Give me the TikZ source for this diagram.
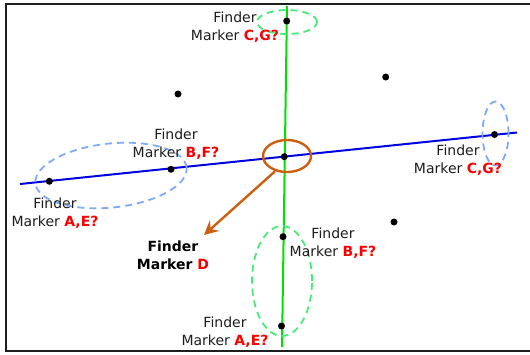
\documentclass[tikz,border=0pt]{standalone}
\usepackage{fontspec}
\setmainfont{DejaVu Sans}
\usetikzlibrary{arrows.meta,shapes.geometric}
\definecolor{lblue}{RGB}{125,170,250}
\definecolor{lgreen}{RGB}{70,235,120}
\definecolor{gline}{RGB}{0,225,0}
\definecolor{bline}{RGB}{0,0,225}
\definecolor{orng}{RGB}{205,95,15}
\definecolor{redt}{RGB}{250,0,0}
\definecolor{txt}{RGB}{30,30,30}
\tikzset{
  dot/.style={circle,fill=black,inner sep=0pt,minimum size=7pt},
  lbl/.style={align=center,inner sep=0pt,font=\fontsize{14pt}{18pt}\selectfont,text=txt},
  blbl/.style={lbl,font=\fontsize{14pt}{18pt}\selectfont\bfseries,text=black},
  dashb/.style={draw=lblue,line width=1.8pt,dash pattern=on 7pt off 5pt},
  dashg/.style={draw=lgreen,line width=1.8pt,dash pattern=on 7pt off 5pt},
}
\newcommand{\redq}[1]{\textcolor{redt}{\bfseries #1}}
\begin{document}
\begin{tikzpicture}[x=1pt,y=-1pt]
\useasboundingbox (0,0) rectangle (530,354);
\fill[white] (0,0) rectangle (530,354);
% frame
\draw[line width=2.2pt,draw=txt] (6,4) rectangle (534,351);
% lines
\coordinate (gT) at (287,6);
\coordinate (gB) at (282,347);
\coordinate (bL) at (20,184);
\coordinate (bR) at (517,132.5);
\draw[gline,line width=2pt] (gT) -- (gB);
\draw[bline,line width=2pt] (bL) -- (bR);
% dashed ellipses
\draw[dashb,rotate around={6:(111,175.5)}] (111,175.5) ellipse [x radius=76pt,y radius=32pt];
\draw[dashb] (495.5,133.5) ellipse [x radius=13pt,y radius=32pt];
\draw[dashg] (287,22) ellipse [x radius=30pt,y radius=12pt];
\draw[dashg] (282,281) ellipse [x radius=30pt,y radius=55pt];
% dots
\node[dot] (p1) at (286.7,21) {};
\node[dot] (p2) at (178,94) {};
\node[dot] (p3) at (385.7,77) {};
\node[dot] (p4) at (49.3,181.3) {};
\node[dot] (p5) at (171,169.3) {};
\node[dot] (pc) at (284.3,156.7) {};
\node[dot] (p6) at (494.5,134.5) {};
\node[dot] (p7) at (394,222) {};
\node[dot] (p8) at (283,236.7) {};
\node[dot] (p9) at (281.5,326) {};
% orange ellipse and arrow
\node[draw=orng,line width=2.4pt,ellipse,minimum width=48pt,minimum height=32pt,inner sep=0pt] (oe) at (287,156) {};
\node[blbl] (lD) at (173,255) {Finder\\Marker \redq{D}};
\coordinate (aT) at (204,235);
\draw[orng,line width=2.4pt,-{Stealth[length=14pt,width=14pt,inset=5pt]}] (oe.232) -- (aT);
% labels
\node[lbl] (l1) at (235,27) {Finder\\Marker \redq{C,G?}};
\node[lbl] (l2) at (176,144) {Finder\\Marker \redq{B,F?}};
\node[lbl] (l3) at (55,213) {Finder\\Marker \redq{A,E?}};
\node[lbl] (l4) at (458,160) {Finder\\Marker \redq{C,G?}};
\node[lbl] (l5) at (333,243) {Finder\\Marker \redq{B,F?}};
\node[lbl] (l6) at (225,332) {Finder\\Marker \redq{A,E?}};
\end{tikzpicture}
\end{document}
